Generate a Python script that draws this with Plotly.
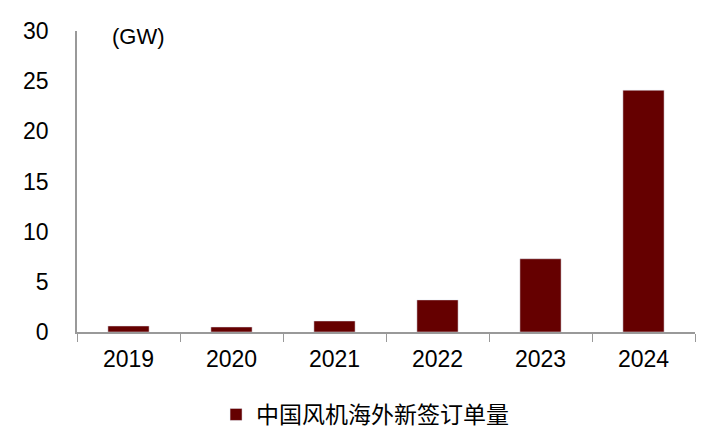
import plotly.graph_objects as go

years = ["2019", "2020", "2021", "2022", "2023", "2024"]
orders_gw = [0.6, 0.5, 1.1, 3.2, 7.3, 24.1]
series_name = "中国风机海外新签订单量"

fig = go.Figure()
fig.add_trace(go.Bar(x=years, y=orders_gw, name=series_name,
                     marker_color="#650000", width=0.4))

# page body has an 8px margin, so the figure is a bit smaller than the window
fig.update_layout(
    width=706, height=427,
    margin=dict(l=69, r=19, t=23, b=103),
    plot_bgcolor="white", paper_bgcolor="white",
    font=dict(family="Liberation Sans, Arial", size=23, color="black"),
    showlegend=True,
    legend=dict(orientation="h", x=0.225, xanchor="left",
                y=0.048, yref="container", yanchor="middle",
                font=dict(family="Noto Sans CJK SC", size=23)),
    xaxis=dict(showline=True, linecolor="#999999", linewidth=1.5,
               ticks="outside", ticklen=8, tickcolor="#999999",
               tickson="boundaries", showgrid=False, automargin=False,
               ticklabelstandoff=6),
    yaxis=dict(range=[0, 30], dtick=5, showline=True, linecolor="#999999",
               linewidth=1.5, showgrid=False, zeroline=False, ticks="",
               ticklabelstandoff=22, automargin=False),
)
fig.add_annotation(text="(GW)", x=0.053, xref="paper", y=29.5, yref="y",
                   showarrow=False, xanchor="left", yanchor="middle",
                   font=dict(size=22))

fig.write_html("out.html")
